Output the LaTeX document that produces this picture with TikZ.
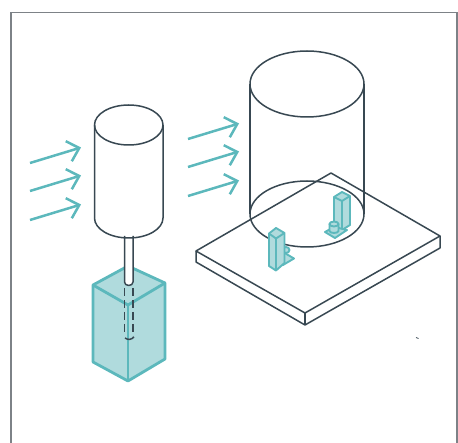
\documentclass[tikz,border=0pt]{standalone}
\usepackage{tikz}
\usetikzlibrary{arrows.meta}
\definecolor{tealline}{RGB}{92,184,188}
\definecolor{tealfill}{RGB}{176,219,221}
\definecolor{darkline}{RGB}{56,72,82}
\definecolor{frameline}{RGB}{125,130,135}
\tikzset{
  outline/.style={draw=darkline,line width=1.5pt,line join=round},
  solidpart/.style={draw=tealline,fill=tealfill,line width=2.8pt,line join=round},
  smallpart/.style={draw=tealline,fill=tealfill,line width=1.9pt,line join=round},
  flowarrow/.style={draw=tealline,line width=2.5pt,-{Straight Barb[length=11pt,width=21pt,line width=2.5pt]}}
}
\begin{document}
\begin{tikzpicture}[x=1pt,y=-1pt]
\useasboundingbox (0,0) rectangle (458,443);
% frame
\draw[frameline,line width=1.5pt] (11,443) -- (11,12.5) -- (457,12.5) -- (457,443);
% arrows left
\draw[flowarrow] (30,163) -- (81,147.5);
\draw[flowarrow] (30,191) -- (81,175.5);
\draw[flowarrow] (30,220) -- (81,204.5);
% arrows right
\draw[flowarrow] (188,139) -- (239,123.5);
\draw[flowarrow] (188,167) -- (239,151.5);
\draw[flowarrow] (188,196) -- (239,180.5);
% block
\draw[solidpart] (128,266) -- (165,283) -- (165,359) -- (128,381) -- (93,362) -- (93,285) -- cycle;
\draw[solidpart] (93,285) -- (128,305) -- (165,283);
\draw[solidpart] (128,305) -- (128,381);
% rod
\draw[outline,fill=white] (124.5,236) -- (124.5,282) arc[start angle=180,end angle=360,x radius=4.25,y radius=-3.5] -- (133,236);
\draw[outline,dash pattern=on 8pt off 4pt] (124.5,288) -- (124.5,333);
\draw[outline,dash pattern=on 8pt off 4pt] (133,288) -- (133,336);
\draw[outline] (125,338) .. controls (128,340) and (131,340) .. (134,337);
% small cylinder
\draw[outline] (94.5,125) -- (94.5,218) arc[start angle=180,end angle=360,x radius=34.25,y radius=-20] -- (163,125);
\draw[outline] (128.75,125) ellipse[x radius=34.25,y radius=20];
% plate
\draw[outline] (196,251) -- (331,173) -- (440,236) -- (305,313) -- cycle;
\draw[outline] (196,251) -- (196,262) -- (305,325) -- (440,248) -- (440,236);
\draw[outline] (305,313) -- (305,325);
% large cylinder
\draw[outline] (307,84) ellipse[x radius=57,y radius=33];
\draw[outline] (250,84) -- (250,214);
\draw[outline] (364,84) -- (364,214);
\draw[outline] (307,214) ellipse[x radius=57,y radius=33];
% part at the back
\draw[smallpart] (342,192) -- (350,196) -- (350,225) -- (342,230) -- (334,225) -- (334,197) -- cycle;
\draw[smallpart] (334,197) -- (342,201) -- (350,196);
\draw[smallpart] (342,201) -- (342,230);
\draw[smallpart] (325,232) -- (334,227) -- (347,230) -- (335,238) -- cycle;
\draw[smallpart] (329.5,224) -- (329.5,231) arc[start angle=180,end angle=360,x radius=4.5,y radius=-2] -- (338.5,224);
\draw[smallpart] (334,224) ellipse[x radius=4.5,y radius=2.5];
% part in front
\draw[smallpart] (283,252) -- (294,258.5) -- (283,265) -- cycle;
\draw[smallpart] (286,250) ellipse[x radius=3.5,y radius=3];
\draw[smallpart] (276,228) -- (284.5,233) -- (284.5,263) -- (276,270.5) -- (269,266) -- (269,233.5) -- cycle;
\draw[smallpart] (269,233.5) -- (276,238.5) -- (284.5,233);
\draw[smallpart] (276,238.5) -- (276,270.5);
% speck
\draw[darkline,line width=0.8pt] (416,337.5) -- (418.5,338.5);
\end{tikzpicture}
\end{document}
